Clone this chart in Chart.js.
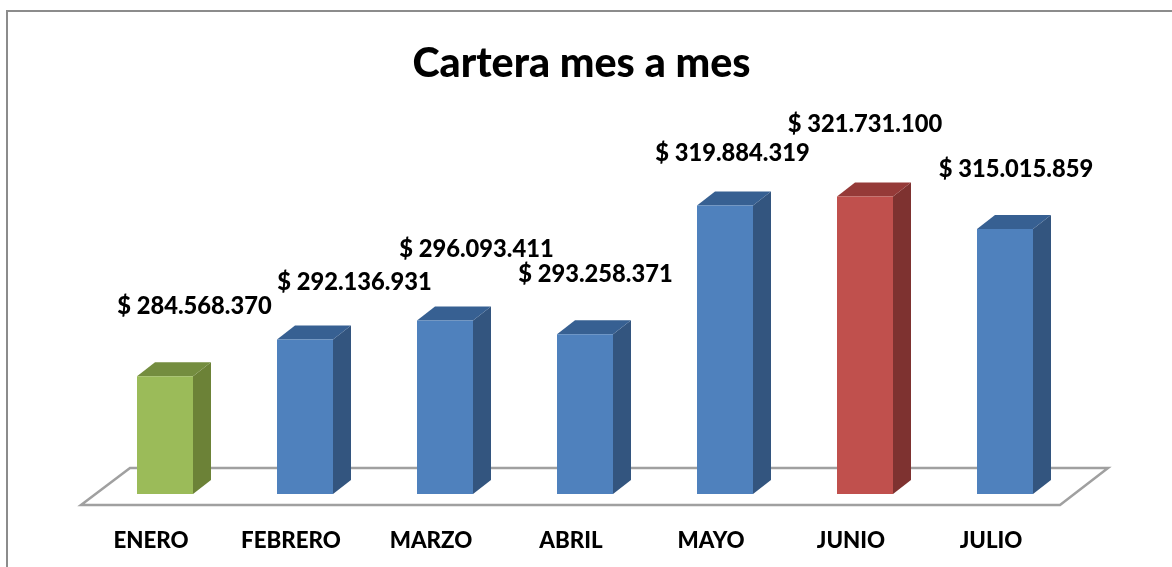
<!DOCTYPE html>
<html><head><meta charset="utf-8">
<style>html,body{margin:0;padding:0;background:#fff}#w{width:1172px;height:567px;position:relative}canvas{display:block}</style>
<script src="https://cdn.jsdelivr.net/npm/chart.js@4/dist/chart.umd.min.js"></script>
</head><body><div id="w"><canvas id="c" width="1172" height="567"></canvas></div>
<script>
const categories = ["ENERO","FEBRERO","MARZO","ABRIL","MAYO","JUNIO","JULIO"];
const values = [284568370,292136931,296093411,293258371,319884319,321731100,315015859];
const frontColors = ["#9BBB59","#4F81BD","#4F81BD","#4F81BD","#4F81BD","#C0504D","#4F81BD"];
const sideColors = ["#6C8237","#33557F","#33557F","#33557F","#33557F","#7E3230","#33557F"];
const topColors = ["#748D3F","#376092","#376092","#376092","#376092","#953A38","#376092"];
const labelOffsets = [[29.5,-70],[49.5,-57],[31.5,-71],[10.5,-60],[7.5,-52],[0,-72],[11,-60]];
const FONT = "Lato, Carlito, sans-serif";
const DEPTH_X = 18, DEPTH_Y = 14;
const fmt = v => "$ " + String(v).replace(/\B(?=(\d{3})+(?!\d))/g, ".");

const frame3d = {
  id: "frame3d",
  beforeDatasetsDraw(chart) {
    const c = chart.ctx, a = chart.chartArea;
    c.save();
    c.strokeStyle = "#A0A0A0"; c.lineWidth = 2.5; c.lineJoin = "miter";
    c.beginPath();
    c.moveTo(a.left - 14, a.bottom + 11);
    c.lineTo(a.left + 35, a.bottom - 26);
    c.lineTo(a.right + 33, a.bottom - 26);
    c.lineTo(a.right - 15, a.bottom + 11);
    c.closePath(); c.stroke();
    // sides and tops of every bar, taken from the bar elements
    chart.getDatasetMeta(0).data.forEach((b, i) => {
      const p = b.getProps(["x","y","width"], true);
      const l = p.x - p.width/2, r = p.x + p.width/2, base = a.bottom;
      c.fillStyle = sideColors[i];
      c.beginPath(); c.moveTo(r,p.y); c.lineTo(r+DEPTH_X,p.y-DEPTH_Y); c.lineTo(r+DEPTH_X,base-DEPTH_Y); c.lineTo(r,base); c.closePath(); c.fill();
      c.fillStyle = topColors[i];
      c.beginPath(); c.moveTo(l,p.y); c.lineTo(l+DEPTH_X,p.y-DEPTH_Y); c.lineTo(r+DEPTH_X,p.y-DEPTH_Y); c.lineTo(r,p.y); c.closePath(); c.fill();
    });
    c.restore();
  },
  afterDatasetsDraw(chart) {
    const c = chart.ctx;
    c.save();
    c.font = "900 23.7px " + FONT; c.fillStyle = "#000"; c.textAlign = "center"; c.textBaseline = "middle";
    chart.getDatasetMeta(0).data.forEach((b, i) => {
      const p = b.getProps(["x","y"], true);
      c.fillText(fmt(values[i]), p.x + labelOffsets[i][0], p.y + labelOffsets[i][1]);
    });
    c.restore();
  },
  beforeDraw(chart) {
    const c = chart.ctx;
    c.save();
    c.fillStyle = "#fff"; c.fillRect(0,0,chart.width,chart.height);
    c.strokeStyle = "#8C8C8C"; c.lineWidth = 2;
    c.beginPath(); c.moveTo(7,chart.height); c.lineTo(7,11); c.lineTo(chart.width,11); c.stroke();
    c.restore();
  }
};

new Chart(document.getElementById("c"), {
  type: "bar",
  data: { labels: categories, datasets: [{ data: values, backgroundColor: frontColors, borderWidth: 0, barPercentage: 0.4, categoryPercentage: 1 }] },
  plugins: [frame3d],
  options: {
    responsive: false, animation: false,
    layout: { padding: { left: 88, right: 97, top: 0, bottom: 0 } },
    plugins: {
      legend: { display: false }, tooltip: { enabled: false },
      title: { display: true, text: "Cartera mes a mes", color: "#000", font: { family: FONT, size: 41.2, weight: "900", lineHeight: 1.2 }, padding: { top: 39, bottom: 12 } }
    },
    scales: {
      x: { grid: { display: false }, border: { display: false },
           ticks: { color: "#000", font: { family: FONT, size: 22.3, weight: "900" }, labelOffset: -14, maxRotation: 0, autoSkip: false, padding: 25 },
           afterFit(s) { s.height = 73; } },
      y: { min: 260200000, max: 341600000, grid: { display: false }, border: { display: false }, ticks: { display: false },
           afterFit(s) { s.width = 7; } }
    }
  }
});
</script></body></html>
